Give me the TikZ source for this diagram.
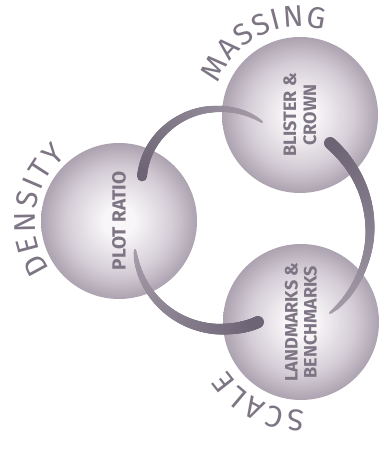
\documentclass[tikz,border=0pt]{standalone}
\usepackage{fontspec}
\setsansfont{Fira Sans}
\usetikzlibrary{calc,decorations.markings,decorations.text}
\definecolor{sphlight}{HTML}{F8F6F8}
\definecolor{sphmid}{HTML}{D4CDD6}
\definecolor{sphdark}{HTML}{ACA2B0}
\definecolor{labelgray}{HTML}{7E7584}
\definecolor{arcdark}{HTML}{6C6474}
\definecolor{arclight}{HTML}{B5ABB8}
\pgfdeclareradialshading{sphereshade}{\pgfpoint{0bp}{0bp}}{color(0bp)=(sphlight); color(5bp)=(sphlight); color(17bp)=(sphmid); color(25bp)=(sphdark); color(50bp)=(sphdark)}
\newcommand\curvefont{\sffamily\fontsize{30}{30}\selectfont\color{labelgray}}
\tikzset{
  ball/.style={circle, minimum size=156pt, inner sep=0pt, shading=sphereshade,
    text=labelgray, align=center, rotate=90},
  brush/.style args={#1/#2}{decorate, decoration={markings,
    mark=between positions 0 and 1 step 0.6pt with {
      \pgfmathsetmacro\f{\pgfkeysvalueof{/pgf/decoration/mark info/distance from start}/\pgfdecoratedpathlength}
      \pgfmathsetmacro\rad{#1+(#2-#1)*sqrt(\f)}
      \pgfmathtruncatemacro\mixv{20+80*\f}
      \fill[arcdark!\mixv!arclight] (0,0) circle (\rad pt);}}},
  arclabel/.style={decorate, decoration={text along path, text align=fit to path,
    text={|\curvefont|#1}}}
}
\begin{document}
\begin{tikzpicture}[x=1pt, y=1pt]
  \useasboundingbox (0,0) rectangle (380,450);
  % the three spheres
  \node[ball, font=\sffamily\bfseries\fontsize{19}{21}\selectfont] (plot) at (119,229) {PLOT RATIO};
  \node[ball, font=\sffamily\bfseries\fontsize{18}{20}\selectfont] (blister) at (300,335) {BLISTER \&\\CROWN};
  \node[ball, font=\sffamily\bfseries\fontsize{18}{19}\selectfont] (landmark) at (301,128) {LANDMARKS \&\\BENCHMARKS};
  % brush strokes between them
  \path[brush={1/5}] ($(blister)+(-38,-7)$) .. controls (245,340) and (225,343) .. (205,340)
    .. controls (175,335) and (145,310) .. ($(plot)+(23,44)$);
  \path[brush={1/6}] ($(landmark)+(29,9)$) .. controls (355,155) and (370,190) .. (370,220)
    .. controls (370,255) and (355,285) .. ($(blister)+(30,-28)$);
  \path[brush={1/6}] ($(plot)+(16,-29)$) .. controls (138,160) and (170,125) .. (215,121)
    .. controls (235,120) and (250,124) .. ($(landmark)+(-43,0)$);
  % curved headings
  \path[arclabel=MASSING] ($(blister)+(159:88)$) arc[start angle=159, end angle=74, radius=88];
  \path[arclabel=DENSITY] ($(plot)+(215:84)$) arc[start angle=215, end angle=129, radius=84];
  \path[arclabel=SCALE] ($(landmark)+(272:88)$) arc[start angle=272, end angle=213, radius=88];
\end{tikzpicture}
\end{document}
